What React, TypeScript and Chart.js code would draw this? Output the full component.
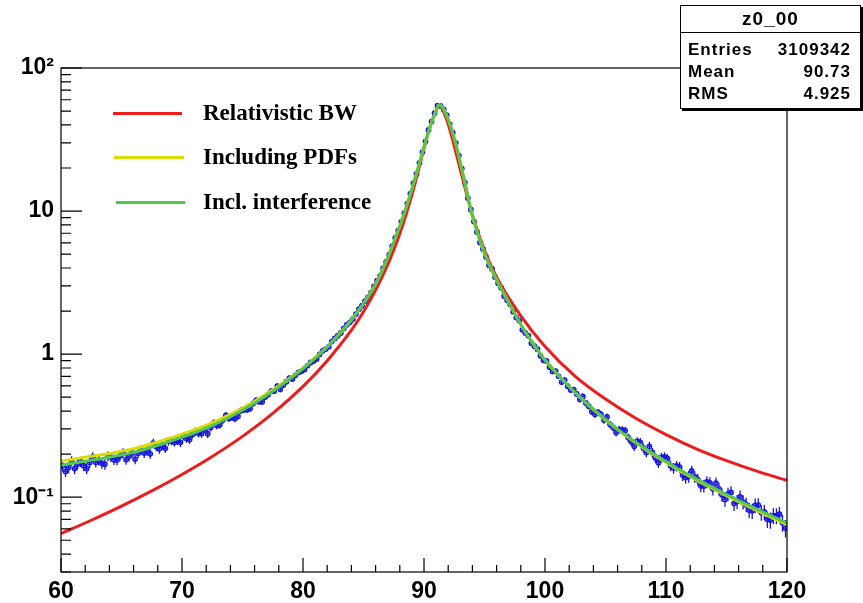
import React, { useEffect, useRef } from "react";
import { Chart, registerables } from "chart.js";

Chart.register(...registerables);

// ---------- axes ----------
const X_MIN = 60;
const X_MAX = 120;
const Y_MIN = 0.03;
const Y_MAX = 100;
const X_TICKS = [60, 70, 80, 90, 100, 110, 120];
const X_MINOR_STEP = 2;
const Y_TICKS = [0.1, 1, 10, 100];
const Y_TICK_LABELS = ["10\u207B\u00B9", "1", "10", "10\u00B2"];

// ---------- histogram (blue points), 0.25 GeV bins from 60 to 120 ----------
const HIST_START = 60;
const BIN_WIDTH = 0.25;
const HIST_VALUES = [
  0.1656, 0.1511, 0.1612, 0.1786, 0.1584, 0.1706, 0.1774, 0.1660, 0.1584, 0.1747,
  0.1913, 0.1756, 0.1810, 0.1726, 0.1701, 0.1932, 0.1910, 0.1829, 0.1820, 0.1941,
  0.2039, 0.1831, 0.1932, 0.2040, 0.1847, 0.2026, 0.2141, 0.2037, 0.2114, 0.2009,
  0.2389, 0.2261, 0.2177, 0.2310, 0.2195, 0.2465, 0.2479, 0.2419, 0.2480, 0.2417,
  0.2667, 0.2575, 0.2532, 0.2753, 0.2890, 0.2798, 0.2791, 0.3004, 0.2779, 0.3069,
  0.3293, 0.3167, 0.3203, 0.3459, 0.3724, 0.3559, 0.3610, 0.3547, 0.3682, 0.4035,
  0.4101, 0.4092, 0.4163, 0.4522, 0.4751, 0.4656, 0.4647, 0.5008, 0.5224, 0.5515,
  0.5521, 0.5962, 0.5679, 0.6076, 0.6422, 0.6803, 0.6701, 0.7105, 0.7451, 0.7594,
  0.7811, 0.8311, 0.8741, 0.8947, 0.9245, 0.9974, 1.054, 1.084, 1.127, 1.223,
  1.287, 1.344, 1.405, 1.515, 1.605, 1.669, 1.757, 1.906, 2.062, 2.179,
  2.343, 2.489, 2.695, 2.973, 3.257, 3.528, 3.990, 4.412, 4.963, 5.678,
  6.486, 7.284, 8.410, 9.665, 11.28, 13.24, 15.66, 18.18, 21.75, 25.84,
  30.73, 36.88, 42.23, 48.35, 54.5, 54.3, 51.29, 46.78, 40.56, 35.28,
  29.98, 24.42, 19.82, 15.79, 12.32, 10.22, 8.437, 7.141, 6.031, 5.434,
  4.782, 4.185, 3.939, 3.458, 3.134, 2.910, 2.549, 2.377, 2.232, 1.980,
  1.802, 1.715, 1.479, 1.406, 1.346, 1.192, 1.136, 1.083, 0.9739, 0.9049,
  0.8956, 0.8109, 0.7572, 0.7616, 0.7000, 0.6373, 0.6582, 0.5965, 0.5621, 0.5643,
  0.5273, 0.4833, 0.5062, 0.4556, 0.4329, 0.3963, 0.3801, 0.3923, 0.3796, 0.3468,
  0.3640, 0.3232, 0.3081, 0.2837, 0.2963, 0.2948, 0.2922, 0.2613, 0.2447, 0.2266,
  0.2457, 0.2419, 0.2209, 0.2057, 0.2264, 0.2054, 0.1876, 0.1744, 0.1897, 0.1913,
  0.1858, 0.1657, 0.1598, 0.1653, 0.1620, 0.1427, 0.1371, 0.1393, 0.1524, 0.1389,
  0.1326, 0.1202, 0.1197, 0.1279, 0.1257, 0.1146, 0.1253, 0.1145, 0.1042, 0.0964,
  0.1054, 0.1080, 0.0906, 0.0932, 0.1004, 0.0925, 0.0887, 0.0813, 0.0803, 0.0878,
  0.0881, 0.0782, 0.0788, 0.0702, 0.0692, 0.0743, 0.0742, 0.0760, 0.0662, 0.0608,
];
const ERR_SCALE = 0.0012; // Poisson-like error: sqrt(value * ERR_SCALE)

// ---------- Relativistic BW (red) ----------
const BW_X = [60, 62.5, 65, 67.5, 70, 72.5, 75, 77.5, 80, 82, 84, 85, 86, 87, 88, 89, 90, 90.5, 91, 91.25, 91.5, 92, 92.5, 93, 94, 95, 96, 98, 100, 102.5, 105, 107.5, 110, 112.5, 115, 117.5, 120];
const BW_Y = [0.0556, 0.069, 0.0867, 0.1107, 0.1442, 0.1926, 0.2662, 0.3852, 0.5945, 0.9003, 1.47, 1.98, 2.80, 4.22, 6.95, 13.0, 27.3, 38.6, 50.5, 54.6, 52.2, 40.5, 28.5, 19.5, 9.4, 5.3, 3.45, 1.85, 1.13, 0.70, 0.485, 0.356, 0.274, 0.218, 0.180, 0.152, 0.131];

// ---------- Including PDFs (yellow) ----------
const PDF_X = [60, 62, 64, 66, 68, 70, 72, 74, 76, 78, 80, 82, 83, 84, 85, 86, 87, 88, 88.5, 89, 89.5, 90, 90.5, 91, 91.25, 91.5, 92, 92.5, 93, 93.5, 94, 95, 96, 97, 98, 99, 100, 102, 104, 106, 108, 110, 112, 114, 116, 118, 120];
const PDF_Y = [0.1784, 0.1902, 0.2019, 0.2179, 0.2434, 0.2762, 0.3178, 0.3796, 0.4687, 0.6008, 0.7989, 1.127, 1.383, 1.74, 2.26, 3.09, 4.73, 7.85, 10.47, 14.29, 19.95, 28.18, 38.9, 50.1, 55.34, 53.7, 43.65, 32.36, 21.88, 14.13, 9.226, 5.07, 3.311, 2.301, 1.611, 1.187, 0.909, 0.591, 0.41, 0.2965, 0.2245, 0.1751, 0.1393, 0.1133, 0.093, 0.0772, 0.0642];

// ---------- Incl. interference (green) ----------
const INT_X = [60, 62, 64, 66, 68, 70, 72, 74, 76, 78, 80, 82, 83, 84, 85, 86, 87, 88, 88.5, 89, 89.5, 90, 90.5, 91, 91.25, 91.5, 92, 92.5, 93, 93.5, 94, 95, 96, 97, 98, 99, 100, 102, 104, 106, 108, 110, 112, 114, 116, 118, 120];
const INT_Y = [0.1675, 0.1786, 0.1905, 0.2056, 0.2307, 0.263, 0.3041, 0.365, 0.455, 0.589, 0.791, 1.122, 1.38, 1.738, 2.259, 3.09, 4.73, 7.85, 10.47, 14.29, 19.95, 28.18, 38.9, 50.1, 55.34, 53.7, 43.65, 32.36, 21.88, 14.13, 9.226, 5.07, 3.311, 2.301, 1.611, 1.189, 0.912, 0.5943, 0.413, 0.2992, 0.227, 0.1778, 0.1416, 0.1153, 0.0948, 0.0789, 0.0658];

// ---------- text ----------
const LEGEND_LABELS = ["Relativistic BW", "Including PDFs", "Incl. interference"];
const STATS_TITLE = "z0_00";
const STAT_NAMES = ["Entries", "Mean", "RMS"];
const STAT_VALUES = ["3109342", "90.73", "4.925"];

const RED = "#ee1c1c";
const YELLOW = "#dcdc00";
const GREEN = "#55c84b";
const BLUE = "#1414e6";
const AXIS_FONT = { family: "'Liberation Sans', Arial, sans-serif", size: 23, weight: "bold" as const };

const toPoints = (xs: number[], ys: number[]) => xs.map((x, i) => ({ x, y: ys[i] }));

const histPoints = () =>
  HIST_VALUES.map((v, i) => ({ x: HIST_START + BIN_WIDTH * (i + 0.5), y: v }));

const errorBarPlugin = {
  id: "errorBars",
  beforeDatasetsDraw(chart: any) {
    const { ctx, chartArea: a, scales } = chart;
    const xs = scales.x;
    const ys = scales.y;
    ctx.save();
    ctx.beginPath();
    ctx.rect(a.left, a.top, a.right - a.left, a.bottom - a.top);
    ctx.clip();
    ctx.strokeStyle = BLUE;
    ctx.lineWidth = 1.3;
    ctx.beginPath();
    HIST_VALUES.forEach((v, i) => {
      const c = HIST_START + BIN_WIDTH * (i + 0.5);
      const e = Math.sqrt(v * ERR_SCALE);
      const px = xs.getPixelForValue(c);
      const py = ys.getPixelForValue(v);
      ctx.moveTo(px, ys.getPixelForValue(v + e));
      ctx.lineTo(px, ys.getPixelForValue(Math.max(v - e, Y_MIN)));
      ctx.moveTo(xs.getPixelForValue(c - BIN_WIDTH / 2), py);
      ctx.lineTo(xs.getPixelForValue(c + BIN_WIDTH / 2), py);
    });
    ctx.stroke();
    ctx.restore();
  },
};

const framePlugin = {
  id: "rootFrame",
  afterDraw(chart: any) {
    const { ctx, chartArea: a, scales } = chart;
    const xs = scales.x;
    const ys = scales.y;
    ctx.save();
    ctx.strokeStyle = "#000";
    ctx.lineWidth = 1.2;
    ctx.strokeRect(a.left, a.top, a.right - a.left, a.bottom - a.top);
    ctx.beginPath();
    const nx = Math.round((X_MAX - X_MIN) / X_MINOR_STEP);
    for (let i = 0; i <= nx; i++) {
      const v = X_MIN + i * X_MINOR_STEP;
      const px = xs.getPixelForValue(v);
      const len = X_TICKS.includes(v) ? 14 : 7;
      ctx.moveTo(px, a.bottom);
      ctx.lineTo(px, a.bottom - len);
    }
    for (let d = -2; d <= 2; d++) {
      for (let k = 1; k <= 9; k++) {
        const v = k * Math.pow(10, d);
        if (v < Y_MIN * 0.999 || v > Y_MAX * 1.001) continue;
        const py = ys.getPixelForValue(v);
        const len = k === 1 ? 21 : 10;
        ctx.moveTo(a.left, py);
        ctx.lineTo(a.left + len, py);
      }
    }
    ctx.stroke();
    ctx.restore();
  },
};

function ChartCanvas() {
  const ref = useRef<HTMLCanvasElement | null>(null);
  useEffect(() => {
    if (!ref.current) return;
    const lineDs = (label: string, xs: number[], ys: number[], color: string, order: number) => ({
      label,
      data: toPoints(xs, ys),
      showLine: true,
      borderColor: color,
      backgroundColor: color,
      borderWidth: 3,
      pointRadius: 0,
      cubicInterpolationMode: "monotone" as const,
      fill: false,
      order,
    });
    const chart = new Chart(ref.current, {
      type: "scatter",
      data: {
        datasets: [
          lineDs(LEGEND_LABELS[2], INT_X, INT_Y, GREEN, 0),
          lineDs(LEGEND_LABELS[1], PDF_X, PDF_Y, YELLOW, 1),
          lineDs(LEGEND_LABELS[0], BW_X, BW_Y, RED, 2),
          {
            label: STATS_TITLE,
            data: histPoints(),
            showLine: false,
            pointStyle: "circle",
            pointRadius: 2.2,
            borderWidth: 1.4,
            borderColor: BLUE,
            backgroundColor: "rgba(0,0,0,0)",
            order: 3,
          } as any,
        ],
      },
      options: {
        animation: false,
        responsive: false,
        events: [],
        layout: { padding: { top: 68, right: 76, left: 0, bottom: 0 } },
        plugins: { legend: { display: false }, tooltip: { enabled: false } },
        scales: {
          x: {
            type: "linear",
            min: X_MIN,
            max: X_MAX,
            grid: { display: false, drawTicks: false },
            border: { display: false },
            afterBuildTicks: (s: any) => {
              s.ticks = X_TICKS.map((v) => ({ value: v }));
            },
            afterFit: (s: any) => {
              s.height = 31;
            },
            ticks: {
              color: "#000",
              font: AXIS_FONT,
              padding: 6,
              maxRotation: 0,
              autoSkip: false,
              callback: (v: any) => String(v),
            },
          },
          y: {
            type: "logarithmic",
            min: Y_MIN,
            max: Y_MAX,
            grid: { display: false, drawTicks: false },
            border: { display: false },
            afterBuildTicks: (s: any) => {
              s.ticks = Y_TICKS.map((v) => ({ value: v, major: true }));
            },
            afterFit: (s: any) => {
              s.width = 61;
            },
            ticks: {
              color: "#000",
              font: AXIS_FONT,
              padding: 7,
              autoSkip: false,
              callback: (v: any) => {
                const idx = Y_TICKS.findIndex((t) => Math.abs(Math.log10(t) - Math.log10(Number(v))) < 1e-6);
                return idx >= 0 ? Y_TICK_LABELS[idx] : "";
              },
            },
          },
        },
      },
      plugins: [errorBarPlugin, framePlugin],
    });
    return () => chart.destroy();
  }, []);
  return <canvas ref={ref} width={863} height={603} style={{ position: "absolute", left: 0, top: 0, width: 863, height: 603 }} />;
}

const LEGEND_COLORS = [RED, YELLOW, GREEN];
const LEGEND_Y = [113, 157, 202];
const LEGEND_LINE_X = [[113, 182], [114, 184], [116, 185]];

export default function App() {
  return (
    <div style={{ position: "absolute", left: 0, top: 0, width: 863, height: 603, background: "#fff", overflow: "hidden" }}>
      <ChartCanvas />
      {LEGEND_LABELS.map((lab, i) => (
        <React.Fragment key={lab}>
          <div
            style={{
              position: "absolute",
              left: LEGEND_LINE_X[i][0],
              top: LEGEND_Y[i] - 1.5,
              width: LEGEND_LINE_X[i][1] - LEGEND_LINE_X[i][0],
              height: 3,
              background: LEGEND_COLORS[i],
            }}
          />
          <div
            style={{
              position: "absolute",
              left: 203,
              top: LEGEND_Y[i] - 14,
              height: 28,
              lineHeight: "28px",
              fontFamily: "'Liberation Serif', 'Times New Roman', serif",
              fontWeight: "bold",
              fontSize: 23,
              color: "#000",
              whiteSpace: "nowrap",
            }}
          >
            {lab}
          </div>
        </React.Fragment>
      ))}
      <div
        style={{
          position: "absolute",
          left: 680,
          top: 5,
          width: 181,
          height: 104,
          boxSizing: "border-box",
          border: "1px solid #000",
          boxShadow: "2px 2px 0 #000",
          background: "#fff",
          fontFamily: "'Liberation Sans', Arial, sans-serif",
          fontWeight: "bold",
          color: "#000",
        }}
      >
        <div style={{ height: 26, lineHeight: "26px", textAlign: "center", fontSize: 19, letterSpacing: 1, borderBottom: "1px solid #000" }}>
          {STATS_TITLE}
        </div>
        {STAT_NAMES.map((n, i) => (
          <div key={n} style={{ display: "flex", justifyContent: "space-between", height: 22, lineHeight: "22px", fontSize: 17, letterSpacing: 1, padding: "0 9px 0 7px", marginTop: i === 0 ? 6 : 0 }}>
            <span>{n}</span>
            <span>{STAT_VALUES[i]}</span>
          </div>
        ))}
      </div>
    </div>
  );
}
